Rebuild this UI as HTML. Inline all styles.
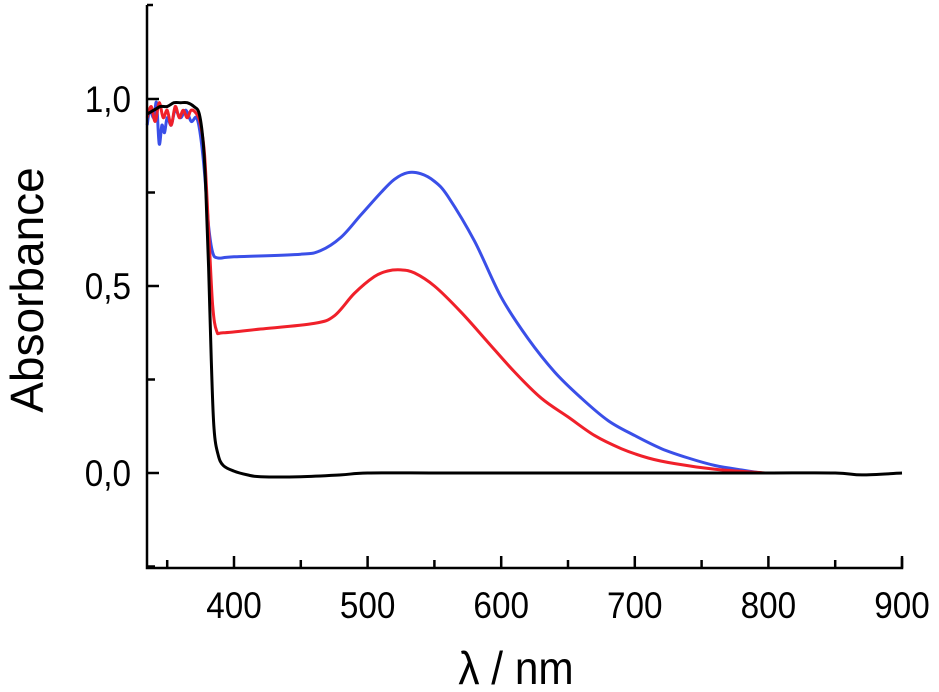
<!DOCTYPE html>
<html><head><meta charset="utf-8"><style>
body{margin:0;background:#fff;width:939px;height:692px;overflow:hidden}
svg{display:block;font-family:"Liberation Sans",sans-serif}
</style></head><body>
<svg id="chart" width="939" height="692"></svg>
<script>
const ticksX=[400,500,600,700,800,900];
const ticksY=[0,0.5,1.0];
const tickLabelsY=["0,0","0,5","1,0"];
const blackX=[335,340,345,350,355,360,365,370,374,377,379,381,383,385,388,392,400,410,420,450,480,500,550,600,650,700,750,800,850,870,900];
const blackY=[0.96,0.97,0.98,0.98,0.99,0.99,0.99,0.98,0.96,0.88,0.75,0.55,0.3,0.12,0.05,0.02,0.005,-0.005,-0.01,-0.01,-0.005,0,0,0,0,0,0,0,0,-0.005,0];
const blueX=[335,337,340,342,344,346,348,350,353,356,360,364,368,372,375,378,381,384,388,400,450,465,480,495,510,520,530,540,550,560,580,600,620,640,660,680,700,720,740,760,780,795];
const blueY=[0.93,0.97,0.95,0.99,0.88,0.93,0.91,0.95,0.93,0.97,0.95,0.97,0.94,0.95,0.9,0.8,0.66,0.59,0.575,0.578,0.585,0.595,0.63,0.69,0.75,0.785,0.803,0.8,0.78,0.74,0.62,0.47,0.36,0.27,0.2,0.14,0.1,0.065,0.04,0.02,0.008,0];
const redX=[335,338,341,344,347,350,353,356,359,362,365,368,372,375,378,381,384,387,392,420,460,475,490,505,515,525,535,550,570,590,610,630,650,670,690,710,730,760,790,798];
const redY=[0.95,0.98,0.94,0.99,0.95,0.97,0.93,0.98,0.95,0.97,0.95,0.97,0.96,0.93,0.85,0.65,0.45,0.38,0.375,0.385,0.4,0.42,0.48,0.525,0.54,0.543,0.535,0.5,0.43,0.35,0.27,0.2,0.15,0.1,0.065,0.04,0.025,0.01,0.002,0];
const NS="http://www.w3.org/2000/svg";
const svg=document.getElementById('chart');
const x0=147,x1=902,yTop=5,yBot=568;
const xs=v=>234+(v-400)*1.336;
const ys=v=>473-v*374;
function mk(t,a,p){const e=document.createElementNS(NS,t);for(const k in a)e.setAttribute(k,a[k]);(p||svg).appendChild(e);return e;}
function series(X,Y,c,n){
 const P=X.map((v,i)=>[xs(v),ys(Y[i])]);
 let d='M'+P[0][0].toFixed(1)+','+P[0][1].toFixed(1);
 for(let i=0;i<P.length-1;i++){
  const p0=P[Math.max(0,i-1)],p1=P[i],p2=P[i+1],p3=P[Math.min(P.length-1,i+2)];
  const c1=[p1[0]+(p2[0]-p0[0])/6,p1[1]+(p2[1]-p0[1])/6];
  const c2=[p2[0]-(p3[0]-p1[0])/6,p2[1]-(p3[1]-p1[1])/6];
  d+=`C${c1[0].toFixed(1)},${c1[1].toFixed(1)} ${c2[0].toFixed(1)},${c2[1].toFixed(1)} ${p2[0].toFixed(1)},${p2[1].toFixed(1)}`;
 }
 const p=mk('path',{d:d,fill:'none',stroke:c,'stroke-width':3,'stroke-linejoin':'round'});
 
 
}
series(blueX,blueY,'#3a4fe8','series-blue');
series(redX,redY,'#f0202a','series-red');
series(blackX,blackY,'#000','series-black');
const ax=mk('path',{d:`M${x0},${yTop}H${x0+6}M${x0},${yTop}V${yBot}H${x1}V${yBot-10}`,fill:'none',stroke:'#000','stroke-width':2.5});


for(let v=350;v<=900;v+=50){
 const X=xs(v);const L=v%100===0?12:8;
 mk('line',{x1:X,x2:X,y1:yBot,y2:yBot-L,stroke:'#000','stroke-width':2.5});
}
ticksX.forEach(v=>{
 const t=mk('text',{x:0,y:0,'font-size':37,'text-anchor':'middle',transform:`translate(${xs(v)},618) scale(0.9,1)`});t.textContent=v;
 
 
});
for(let v=-0.25;v<=1.01;v+=0.25){
 const Y=ys(v);const L=Math.abs(v*2-Math.round(v*2))<0.01?12:8;
 mk('line',{x1:x0,x2:x0+L,y1:Y,y2:Y,stroke:'#000','stroke-width':2.5});
}
ticksY.forEach((v,i)=>{
 const t=mk('text',{x:0,y:0,'font-size':37,'text-anchor':'end',transform:`translate(131,${ys(v)+13}) scale(0.9,1)`});t.textContent=tickLabelsY[i];
 
 
});
const yt=mk('text',{x:0,y:0,'font-size':46,'text-anchor':'middle',transform:'translate(43,290) rotate(-90)'});yt.textContent='Absorbance';


const xt=mk('text',{x:0,y:0,'font-size':46,'text-anchor':'middle',transform:'translate(516,684) scale(0.92,1)'});xt.textContent='λ / nm';


</script>
</body></html>
